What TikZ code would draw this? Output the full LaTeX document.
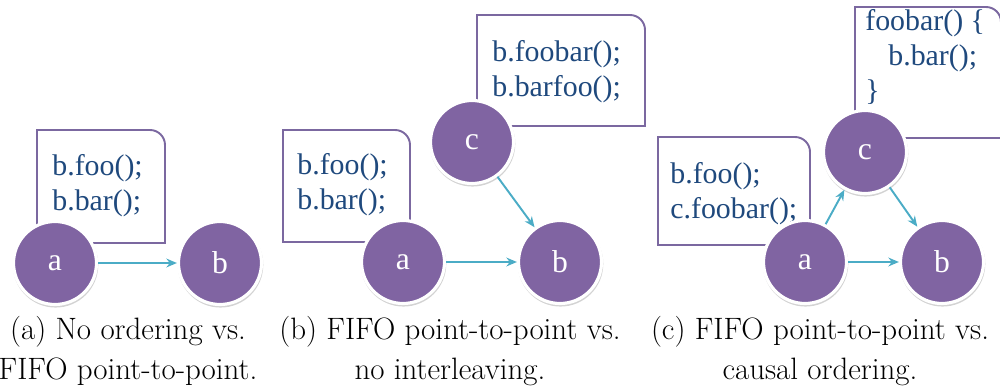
\documentclass[tikz,border=0pt]{standalone}
\usepackage{fontspec}
\newfontfamily\codefont{Liberation Serif}
\usetikzlibrary{arrows.meta,shadows,calc}
\definecolor{procfill}{HTML}{8064A2}
\definecolor{boxline}{HTML}{7B68A0}
\definecolor{msgline}{HTML}{4BACC6}
\definecolor{codeblue}{HTML}{1F497D}
\begin{document}
\begin{tikzpicture}[
  proc/.style={circle,fill=procfill,draw=white,line width=1.8pt,minimum size=1.66cm,inner sep=0pt,
    text=white,font=\codefont\fontsize{18}{20}\selectfont,
    drop shadow={opacity=0.35,shadow xshift=0.3pt,shadow yshift=-1pt,shadow scale=1.03}},
  code/.style={anchor=west,align=left,inner sep=0pt,text=codeblue,font=\codefont\fontsize{17}{20}\selectfont},
  card/.style={draw=boxline,line width=1.1pt},
  msg/.style={draw=msgline,line width=1.1pt,-{Stealth[length=6pt,width=5pt]}},
  capt/.style={align=center,font=\fontsize{17.6}{22.5}\selectfont}]
\useasboundingbox (0,0) rectangle (20,7.76);
\draw[card] (0.74,2.90) -- (0.74,5.16) -- (3.00,5.16) arc[start angle=90,end angle=0,radius=0.3] -- (3.30,2.90) -- cycle;
\node[code] (codeA) at (1.04,4.05) {b.foo();\\b.bar();};
\node[proc] (aA) at (1.10,2.50) {a};
\node[proc] (bA) at (4.40,2.50) {b};
\draw[msg] (aA) -- (bA);
\node[capt] (captA) at (2.56,0.74) {(a) No ordering vs.\\FIFO point-to-point.};
%
\draw[card] (5.66,2.92) -- (5.66,5.16) -- (7.90,5.16) arc[start angle=90,end angle=0,radius=0.3] -- (8.20,2.92) -- cycle;
\node[code] (codeB1) at (5.94,4.06) {b.foo();\\b.bar();};
\draw[card] (9.54,5.24) -- (9.54,7.46) -- (12.60,7.46) arc[start angle=90,end angle=0,radius=0.3] -- (12.90,5.24) -- cycle;
\node[code] (codeB2) at (9.84,6.32) {b.foobar();\\b.barfoo();};
\node[proc] (aB) at (8.06,2.52) {a};
\node[proc] (bB) at (11.20,2.52) {b};
\node[proc] (cB) at (9.44,4.92) {c};
\draw[msg] (aB) -- (bB);
\draw[msg] (cB) -- (bB);
\node[capt] (captB) at (9.00,0.74) {(b) FIFO point-to-point vs.\\no interleaving.};
%
\draw[card] (13.16,2.86) -- (13.16,5.02) -- (15.90,5.02) arc[start angle=90,end angle=0,radius=0.3] -- (16.20,2.86) -- cycle;
\node[code] (codeC1) at (13.40,3.88) {b.foo();\\c.foobar();};
\draw[card] (17.10,5.00) -- (17.10,7.62) -- (19.72,7.62) arc[start angle=90,end angle=0,radius=0.3] -- (20.02,5.00) -- cycle;
\node[code] (codeC2) at (17.30,6.62) {foobar() \{\\\hspace{0.46cm}b.bar();\\\}};
\node[proc] (aC) at (16.10,2.52) {a};
\node[proc] (bC) at (18.84,2.52) {b};
\node[proc] (cC) at (17.30,4.72) {c};
\draw[msg] (aC) -- (cC);
\draw[msg] (cC) -- (bC);
\draw[msg] (aC) -- (bC);
\node[capt] (captC) at (16.40,0.74) {(c) FIFO point-to-point vs.\\causal ordering.};
\end{tikzpicture}
\end{document}
